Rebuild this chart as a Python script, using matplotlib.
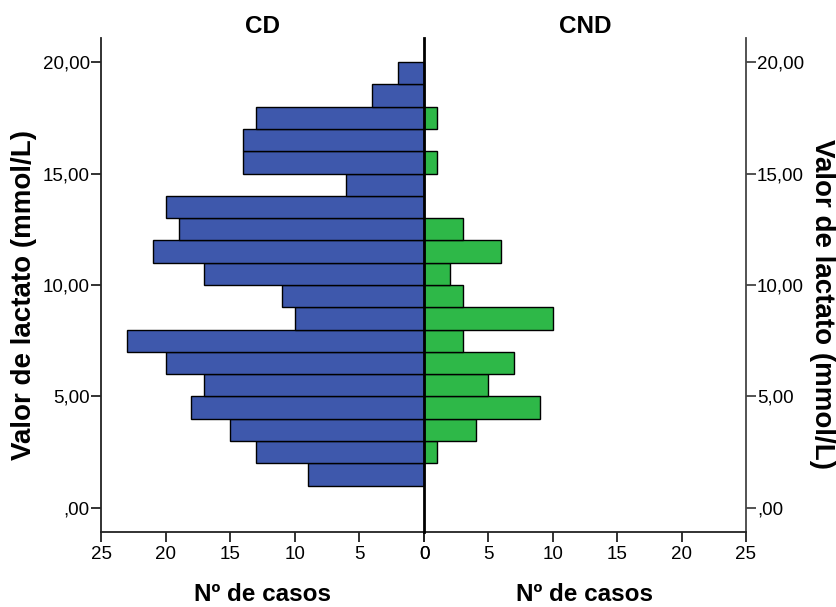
import matplotlib
matplotlib.use("Agg")
import matplotlib.pyplot as plt
from matplotlib.ticker import FixedLocator, FixedFormatter

plt.rcParams['font.family'] = ['Liberation Sans', 'DejaVu Sans']

# Data: histogram of lactate value (bins of width 1, from 1 to 20)
bin_starts = list(range(1, 20))
cd_counts = [9, 13, 15, 18, 17, 20, 23, 10, 11, 17, 21, 19, 20, 6, 14, 14, 13, 4, 2]
cnd_counts = [0, 1, 4, 9, 5, 7, 3, 10, 3, 2, 6, 3, 0, 0, 1, 0, 1, 0, 0]

group_titles = ["CD", "CND"]
y_ticks = [0, 5, 10, 15, 20]
y_tick_labels = [",00", "5,00", "10,00", "15,00", "20,00"]
x_ticks = [0, 5, 10, 15, 20, 25]
x_tick_labels = ["0", "5", "10", "15", "20", "25"]
x_label = "Nº de casos"
y_label = "Valor de lactato (mmol/L)"

blue = "#3E58AC"
green = "#2EB848"

fig = plt.figure(figsize=(8.37, 6.07), dpi=100)
W, H = 837, 607
x0, xm, x1 = 101, 424, 746
ytop, ybot = 38, 532
axL = fig.add_axes([x0 / W, 1 - ybot / H, (xm - x0) / W, (ybot - ytop) / H])
axR = fig.add_axes([xm / W, 1 - ybot / H, (x1 - xm) / W, (ybot - ytop) / H])
axR.patch.set_visible(False)

axL.barh(bin_starts, cd_counts, height=1, align='edge', color=blue,
         edgecolor='black', linewidth=1.0)
axR.barh(bin_starts, cnd_counts, height=1, align='edge', color=green,
         edgecolor='black', linewidth=1.0)

for ax in (axL, axR):
    ax.set_ylim(-1.08, 21.08)
    ax.set_xlim(0, 25)
    ax.xaxis.set_major_locator(FixedLocator(x_ticks))
    ax.xaxis.set_major_formatter(FixedFormatter(x_tick_labels))
    ax.spines['top'].set_visible(False)
    ax.spines['bottom'].set_linewidth(1.3)
    ax.spines['bottom'].set_color('#222222')
    ax.tick_params(axis='x', direction='out', length=7, width=1.3,
                   labelsize=13.5, pad=3, colors='#222222', labelcolor='black')
    ax.set_xlabel(x_label, fontsize=17.5, fontweight='bold', labelpad=14.5)

axL.invert_xaxis()
axL.spines['left'].set_linewidth(1.3)
axL.spines['left'].set_color('#222222')
axL.spines['right'].set_visible(False)
axL.yaxis.set_major_locator(FixedLocator(y_ticks))
axL.yaxis.set_major_formatter(FixedFormatter(y_tick_labels))
axL.tick_params(axis='y', direction='out', length=7, width=1.3, labelsize=13.5,
                pad=1, colors='#222222', labelcolor='black')
axL.set_ylabel(y_label, fontsize=20, fontweight='bold', labelpad=4, y=0.479)
axL.set_title(group_titles[0], fontsize=17.5, fontweight='bold', pad=2)

axR.spines['left'].set_linewidth(2.0)
axR.spines['left'].set_color('black')
axR.spines['left'].set_zorder(5)
axR.spines['right'].set_linewidth(1.3)
axR.spines['right'].set_color('#444444')
axR.yaxis.tick_right()
axR.yaxis.set_label_position('right')
axR.yaxis.set_major_locator(FixedLocator(y_ticks))
axR.yaxis.set_major_formatter(FixedFormatter(y_tick_labels))
axR.tick_params(axis='y', direction='out', length=7, width=1.3, labelsize=13.5,
                pad=1, colors='#444444', labelcolor='black')
axR.set_ylabel(y_label, fontsize=20, fontweight='bold', rotation=270,
               labelpad=22, y=0.4615)
axR.set_title(group_titles[1], fontsize=17.5, fontweight='bold', pad=2)

fig.savefig("out.png", dpi=100)
